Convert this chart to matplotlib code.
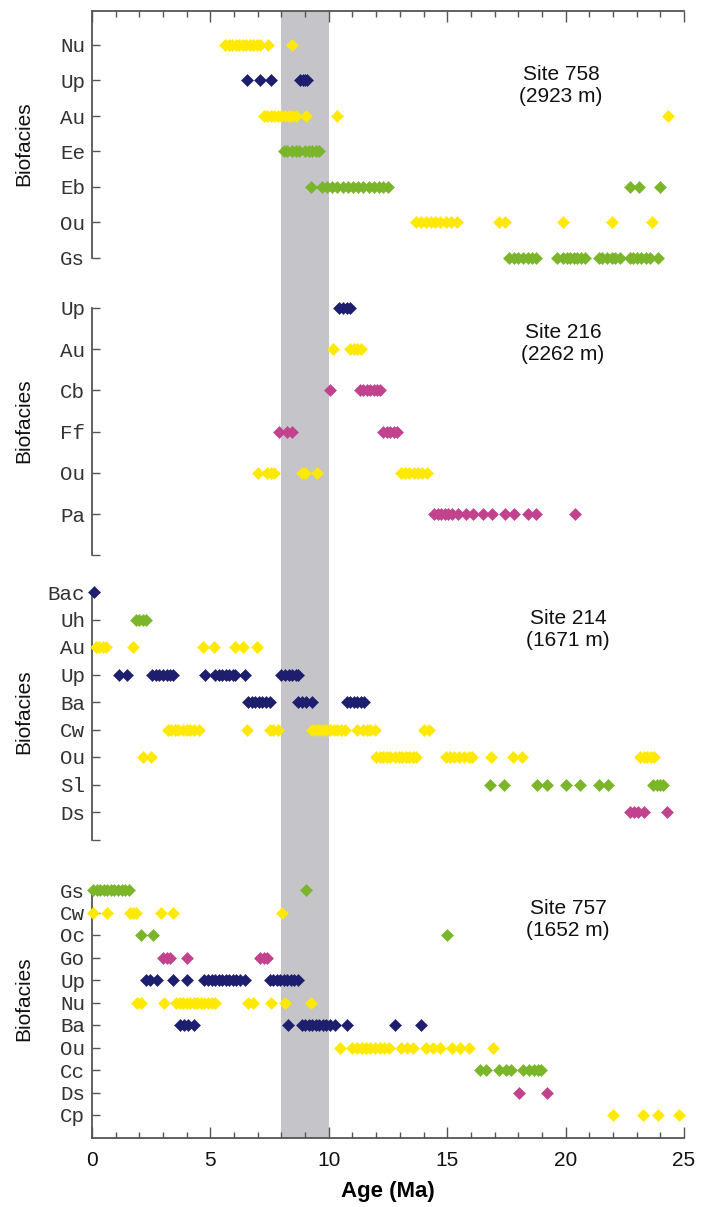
import matplotlib
matplotlib.use('Agg')
import matplotlib.pyplot as plt

# Biofacies occurrences (age in Ma) per site, rows listed top to bottom
site758 = {
    'Nu': [5.62, 5.77, 5.92, 6.07, 6.22, 6.37, 6.52, 6.67, 6.82, 6.97, 7.1, 7.45, 8.43],
    'Up': [6.53, 7.09, 7.54, 8.8, 8.9, 9.0, 9.1],
    'Au': [7.25, 7.4, 7.55, 7.7, 7.85, 8.0, 8.15, 8.3, 8.45, 8.6, 9.02, 10.33, 24.33],
    'Ee': [8.1, 8.25, 8.45, 8.6, 8.75, 9.0, 9.15, 9.3, 9.45, 9.6],
    'Eb': [9.23, 9.7, 9.92, 10.14, 10.36, 10.58, 10.8, 11.02, 11.24, 11.46, 11.68,
           11.9, 12.12, 12.3, 12.5, 22.72, 23.11, 23.99],
    'Ou': [13.7, 13.9, 14.1, 14.3, 14.5, 14.7, 14.95, 15.15, 15.4, 17.2, 17.44,
           19.88, 21.95, 23.66],
    'Gs': [17.6, 17.8, 18.0, 18.2, 18.4, 18.6, 18.75, 19.65, 19.9, 20.05, 20.2,
           20.35, 20.5, 20.65, 20.8, 21.4, 21.55, 21.75, 21.95, 22.1, 22.3, 22.7,
           22.85, 23.0, 23.2, 23.4, 23.55, 23.9],
}
site216 = {
    'Up': [10.45, 10.6, 10.75, 10.9],
    'Au': [10.16, 10.9, 11.05, 11.2, 11.35],
    'Cb': [10.05, 11.3, 11.45, 11.6, 11.75, 11.9, 12.05, 12.15],
    'Ff': [7.9, 8.25, 8.43, 12.3, 12.45, 12.6, 12.75, 12.9],
    'Ou': [7.02, 7.4, 7.55, 7.7, 8.85, 9.0, 9.51, 13.05, 13.2, 13.4, 13.6, 13.75,
           13.95, 14.15],
    'Pa': [14.45, 14.6, 14.75, 14.9, 15.05, 15.2, 15.45, 15.8, 16.1, 16.5, 16.9,
           17.45, 17.8, 18.4, 18.75, 20.4],
}
site214 = {
    'Bac': [0.08],
    'Uh': [1.85, 2.0, 2.15, 2.3],
    'Au': [0.15, 0.3, 0.45, 0.6, 1.72, 4.67, 5.17, 6.04, 6.39, 6.95],
    'Up': [1.15, 1.49, 2.55, 2.7, 2.85, 3.0, 3.15, 3.3, 3.4, 4.77, 5.2, 5.35, 5.5,
           5.65, 5.8, 5.95, 6.05, 6.46, 8.0, 8.15, 8.3, 8.45, 8.6, 8.7],
    'Ba': [6.6, 6.75, 6.9, 7.05, 7.2, 7.35, 7.5, 8.7, 8.85, 9.05, 9.3, 10.75, 10.9,
           11.05, 11.2, 11.35, 11.5],
    'Cw': [3.2, 3.35, 3.5, 3.65, 3.85, 4.0, 4.15, 4.3, 4.5, 6.53, 7.5, 7.65, 7.85,
           9.3, 9.45, 9.6, 9.75, 9.9, 10.05, 10.2, 10.35, 10.5, 10.7, 11.2, 11.45,
           11.6, 11.75, 11.95, 14.0, 14.25],
    'Ou': [2.17, 2.48, 12.0, 12.15, 12.3, 12.45, 12.6, 12.8, 12.95, 13.1, 13.25,
           13.4, 13.55, 13.7, 14.95, 15.1, 15.3, 15.5, 15.7, 15.9, 16.05, 16.85,
           17.79, 18.14, 23.15, 23.3, 23.45, 23.6, 23.75],
    'Sl': [16.81, 17.4, 18.78, 19.2, 20.02, 20.6, 21.42, 21.8, 23.7, 23.85, 24.0, 24.1],
    'Ds': [22.7, 22.9, 23.05, 23.3, 24.27],
}
site757 = {
    'Gs': [0.05, 0.2, 0.35, 0.5, 0.65, 0.8, 0.95, 1.1, 1.25, 1.4, 1.55, 9.02],
    'Cw': [0.03, 0.65, 1.6, 1.75, 1.85, 2.9, 3.43, 8.04],
    'Oc': [2.09, 2.59, 14.98],
    'Go': [3.0, 3.15, 3.3, 4.0, 7.1, 7.25, 7.4],
    'Up': [2.3, 2.45, 2.75, 3.43, 4.0, 4.75, 4.9, 5.05, 5.2, 5.35, 5.5, 5.65, 5.8,
           5.95, 6.1, 6.25, 6.45, 7.5, 7.65, 7.8, 7.95, 8.1, 8.25, 8.4, 8.55, 8.7],
    'Nu': [1.9, 2.05, 3.04, 3.55, 3.7, 3.85, 4.0, 4.15, 4.3, 4.45, 4.6, 4.75, 4.9,
           5.05, 5.2, 6.6, 6.8, 7.55, 8.15, 9.23],
    'Ba': [3.7, 3.9, 4.05, 4.3, 8.29, 8.85, 9.0, 9.15, 9.3, 9.45, 9.6, 9.75, 9.9,
           10.05, 10.25, 10.78, 12.8, 13.88],
    'Ou': [10.47, 11.0, 11.2, 11.4, 11.55, 11.75, 11.95, 12.15, 12.35, 12.55, 13.05,
           13.3, 13.55, 14.1, 14.4, 14.7, 15.2, 15.55, 15.9, 16.95],
    'Cc': [16.4, 16.65, 17.2, 17.5, 17.7, 18.2, 18.45, 18.65, 18.85, 18.95],
    'Ds': [18.03, 19.2],
    'Cp': [21.99, 23.25, 23.91, 24.8],
}
site_names = ['Site 758\n(2923 m)', 'Site 216\n(2262 m)',
              'Site 214\n(1671 m)', 'Site 757\n(1652 m)']
band = (8, 10)

YEL, NAV, GRN, MAG = '#ffe900', '#1e1e6e', '#7ab52a', '#c2428e'
colors = {'Nu': YEL, 'Au': YEL, 'Ou': YEL, 'Cw': YEL, 'Cp': YEL,
          'Up': NAV, 'Bac': NAV, 'Ba': NAV,
          'Ee': GRN, 'Eb': GRN, 'Gs': GRN, 'Uh': GRN, 'Sl': GRN, 'Oc': GRN, 'Cc': GRN,
          'Cb': MAG, 'Ff': MAG, 'Pa': MAG, 'Ds': MAG, 'Go': MAG}

W, H = 709, 1207
fig = plt.figure(figsize=(W / 100, H / 100), dpi=100)
x0, x1 = 92, 684

# panel layout in pixels: axes top, axes bottom, first row y, row spacing, extra bottom tick
panels = [
    (site758, 11, 283, 45, 35.5, None),
    (site216, 283, 570, 308, 41.2, 6),
    (site214, 570, 860, 592, 27.5, 9),
    (site757, 860, 1138, 890, 22.5, None),
]
label_pos = [(561, 85), (563, 344), (568, 630), (568, 920)]
ylab_y = [144, 421, 712, 999]
spine_col = '#555555'

for k, (data, top, bot, r0, dr, extra) in enumerate(panels):
    ax = fig.add_axes([x0 / W, 1 - bot / H, (x1 - x0) / W, (bot - top) / H])
    ax.set_xlim(0, 25)
    ytop = (top - r0) / dr
    ybot = (bot - r0) / dr
    ax.set_ylim(ybot, ytop)
    ax.axvspan(band[0], band[1], color='#c4c4c9', lw=0, zorder=0)
    names = list(data.keys())
    for i, nm in enumerate(names):
        xs = data[nm]
        ax.plot(xs, [i] * len(xs), ls='none', marker='D', ms=6, mew=0.4,
                color=colors[nm], mec=colors[nm], clip_on=False, zorder=3)
    ticks = list(range(len(names)))
    labels = list(names)
    if extra is not None:
        ticks.append(extra)
        labels.append('')
    ax.set_yticks(ticks)
    ax.set_yticklabels(labels, family='Liberation Mono', fontsize=15, color='#333333')
    ax.tick_params(axis='y', direction='in', length=6, width=1, color=spine_col, pad=5)
    ax.spines['right'].set_visible(False)
    ax.spines['left'].set_color(spine_col)
    ax.spines['left'].set_linewidth(1.3)
    if k == 0:
        ax.spines['left'].set_bounds(len(names) - 1, ytop)
        ax.spines['bottom'].set_visible(False)
        ax.spines['top'].set_color(spine_col)
        ax.spines['top'].set_linewidth(1.3)
        ax.xaxis.tick_top()
        ax.set_xticks(range(0, 26, 5))
        ax.set_xticks(range(0, 26), minor=True)
        ax.tick_params(axis='x', which='both', direction='in', labeltop=False,
                       color=spine_col, width=1)
        ax.tick_params(axis='x', which='major', length=8)
        ax.tick_params(axis='x', which='minor', length=4.5)
    elif k == 3:
        ax.spines['left'].set_bounds(0, ybot)
        ax.spines['top'].set_visible(False)
        ax.spines['bottom'].set_color(spine_col)
        ax.spines['bottom'].set_linewidth(1.3)
        ax.set_xticks(range(0, 26, 5))
        ax.set_xticks(range(0, 26), minor=True)
        ax.tick_params(axis='x', which='both', direction='in', color=spine_col,
                       width=1, pad=9)
        ax.tick_params(axis='x', which='major', length=8, labelsize=15,
                       labelcolor='#111111')
        ax.tick_params(axis='x', which='minor', length=4.5)
        for t in ax.get_xticklabels():
            t.set_family('Liberation Sans')
        ax.set_xlabel('Age (Ma)', fontsize=16, fontweight='bold',
                      family='Liberation Sans', labelpad=8)
    else:
        ax.spines['left'].set_bounds(0, extra)
        ax.spines['top'].set_visible(False)
        ax.spines['bottom'].set_visible(False)
        ax.set_xticks([])
    ax.patch.set_alpha(0)
    lx, ly = label_pos[k]
    fig.text(lx / W, 1 - ly / H, site_names[k], ha='center', va='center',
             fontsize=15, family='Liberation Sans', linespacing=1.2, color='#111111')
    fig.text(24 / W, 1 - ylab_y[k] / H, 'Biofacies', rotation=90, ha='center',
             va='center', fontsize=15, family='Liberation Sans', color='#111111')

fig.savefig('out.png', dpi=100)
